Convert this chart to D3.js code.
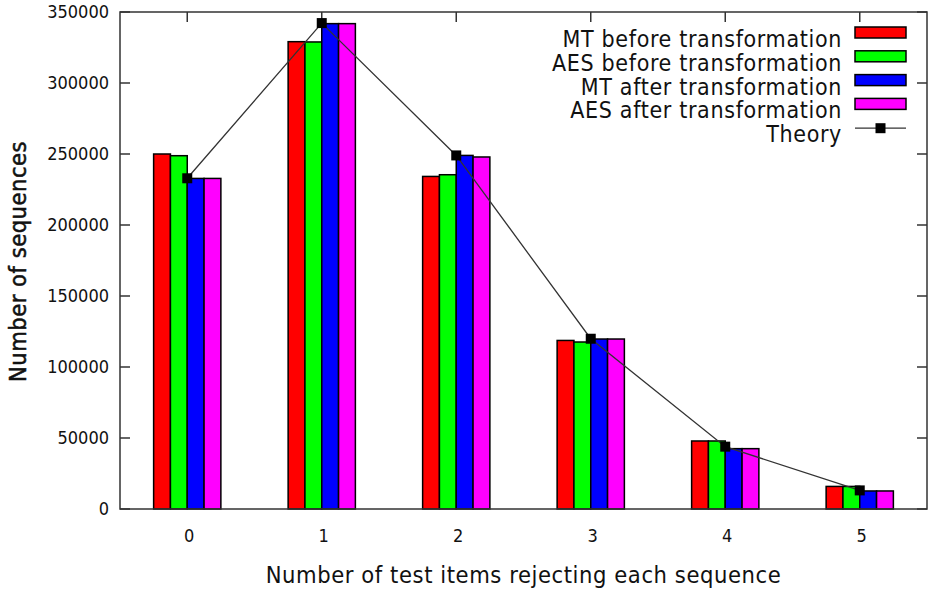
<!DOCTYPE html>
<html>
<head>
<meta charset="utf-8">
<script src="https://cdn.jsdelivr.net/npm/d3@7"></script>
<style>
  html, body { margin: 0; padding: 0; background: #fff; }
  svg text { font-family: "DejaVu Sans Condensed", "DejaVu Sans", sans-serif; fill: #111; }
</style>
</head>
<body>
<svg id="chart" width="935" height="591"></svg>
<script>
// ---- data ----
const categories = [0, 1, 2, 3, 4, 5];
const seriesNames = ["MT before transformation", "AES before transformation", "MT after transformation", "AES after transformation"];
const seriesColors = ["#ff0000", "#00ff00", "#0000ff", "#ff00ff"];
const mtBefore  = [250000, 329100, 234200, 118700, 47900, 15900];
const aesBefore = [248800, 328900, 235400, 117600, 47900, 15900];
const mtAfter   = [232800, 341800, 249000, 119700, 42500, 12700];
const aesAfter  = [232800, 341800, 247900, 119700, 42500, 12700];
const theory    = [232900, 342200, 249000, 119900, 43900, 13100];
const yTicks = [0, 50000, 100000, 150000, 200000, 250000, 300000, 350000];
const xLabel = "Number of test items rejecting each sequence";
const yLabel = "Number of sequences";

const series = [mtBefore, aesBefore, mtAfter, aesAfter];

// ---- layout ----
const L = 120, R = 927, T = 12, B = 509;
const svg = d3.select("#chart");
const x = d3.scaleLinear().domain([-0.5, 5.5]).range([L, R]);
const y = d3.scaleLinear().domain([0, 350000]).range([B, T]);
const barW = 0.125;

const axisColor = "#333";

// ticks (inward, mirrored)
const tickLen = 10;
const tg = svg.append("g").attr("stroke", axisColor).attr("stroke-width", 1.5);
yTicks.forEach(t => {
  tg.append("line").attr("x1", L).attr("x2", L + tickLen).attr("y1", y(t)).attr("y2", y(t));
  tg.append("line").attr("x1", R).attr("x2", R - tickLen).attr("y1", y(t)).attr("y2", y(t));
});
categories.forEach(c => {
  tg.append("line").attr("x1", x(c)).attr("x2", x(c)).attr("y1", T).attr("y2", T + tickLen);
  tg.append("line").attr("x1", x(c)).attr("x2", x(c)).attr("y1", B).attr("y2", B - tickLen);
});

// bars
series.forEach((vals, j) => {
  svg.append("g").selectAll("rect").data(vals).join("rect")
    .attr("x", (v, i) => x(categories[i] - 0.25 + j * barW))
    .attr("width", x(barW) - x(0))
    .attr("y", v => y(v))
    .attr("height", v => y(0) - y(v))
    .attr("fill", seriesColors[j])
    .attr("stroke", "#000")
    .attr("stroke-width", 1.5);
});

// theory line
const line = d3.line().x((v, i) => x(categories[i])).y(v => y(v));
svg.append("path").datum(theory).attr("d", line)
  .attr("fill", "none").attr("stroke", "#333").attr("stroke-width", 1.3);
const ms = 10;
svg.append("g").selectAll("rect").data(theory).join("rect")
  .attr("x", (v, i) => x(categories[i]) - ms / 2)
  .attr("y", v => y(v) - ms / 2)
  .attr("width", ms).attr("height", ms)
  .attr("fill", "#000");

// frame
svg.append("rect").attr("x", L).attr("y", T).attr("width", R - L).attr("height", B - T)
  .attr("fill", "none").attr("stroke", axisColor).attr("stroke-width", 1.5);

// y tick labels
svg.append("g").selectAll("text").data(yTicks).join("text")
  .attr("x", L - 11).attr("y", t => y(t)).attr("dy", "0.35em")
  .attr("text-anchor", "end").attr("font-size", 18)
  .text(t => t);

// x tick labels
svg.append("g").selectAll("text").data(categories).join("text")
  .attr("x", c => x(c) + 2).attr("y", 536).attr("dy", "0.35em")
  .attr("text-anchor", "middle").attr("font-size", 18)
  .text(c => c);

// axis titles
svg.append("text").attr("x", (L + R) / 2).attr("y", 575).attr("dy", "0.35em")
  .attr("text-anchor", "middle").attr("font-size", 23.5)
  .attr("letter-spacing", 0.57).text(xLabel);
svg.append("text")
  .attr("transform", `translate(18,${(T + B) / 2 + 1}) rotate(-90)`)
  .attr("dy", "0.35em").attr("text-anchor", "middle").attr("font-size", 23.5)
  .attr("letter-spacing", 0.5)
  .attr("stroke", "#111").attr("stroke-width", 0.5)
  .text(yLabel);

// legend
const legX = 842, swX = 855, swW = 51, rowH = 23.8, row0 = 39;
seriesNames.forEach((name, j) => {
  const cy = row0 + j * rowH;
  svg.append("text").attr("x", legX).attr("y", cy).attr("dy", "0.35em")
    .attr("text-anchor", "end").attr("font-size", 23).attr("letter-spacing", 0.65).text(name);
  svg.append("rect").attr("x", swX).attr("y", cy - 12).attr("width", swW).attr("height", 11)
    .attr("fill", seriesColors[j]).attr("stroke", "#000").attr("stroke-width", 1.5);
});
{
  const cy = row0 + 4 * rowH;
  svg.append("text").attr("x", legX).attr("y", cy).attr("dy", "0.35em")
    .attr("text-anchor", "end").attr("font-size", 23).attr("letter-spacing", 0.65).text("Theory");
  svg.append("line").attr("x1", swX).attr("x2", swX + swW).attr("y1", cy - 6).attr("y2", cy - 6)
    .attr("stroke", "#333").attr("stroke-width", 1.3);
  svg.append("rect").attr("x", swX + swW / 2 - ms / 2).attr("y", cy - 6 - ms / 2)
    .attr("width", ms).attr("height", ms).attr("fill", "#000");
}
</script>
</body>
</html>
